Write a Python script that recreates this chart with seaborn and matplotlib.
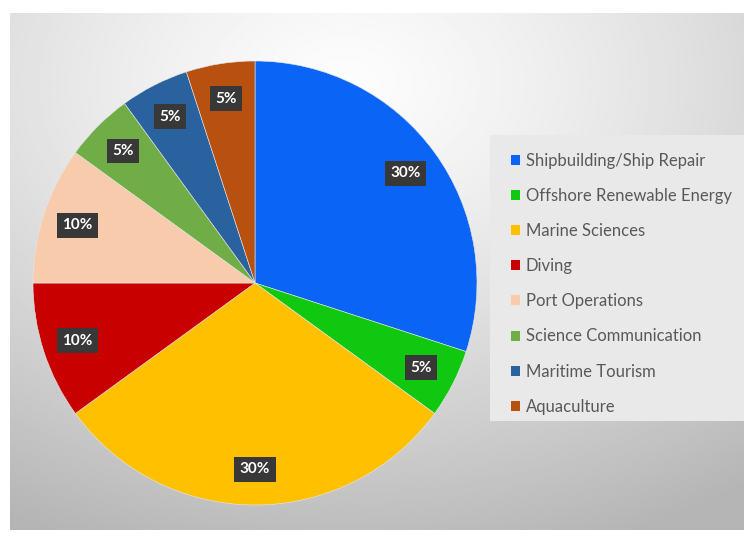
import numpy as np
import matplotlib
matplotlib.use("Agg")
import matplotlib.pyplot as plt
import seaborn as sns
from matplotlib.patches import Rectangle

categories = ["Shipbuilding/Ship Repair", "Offshore Renewable Energy", "Marine Sciences",
              "Diving", "Port Operations", "Science Communication", "Maritime Tourism", "Aquaculture"]
values = [30, 5, 30, 10, 10, 5, 5, 5]
colors = ["#0a64f5", "#10c810", "#ffc000", "#c80000", "#f9cbad", "#70ad47", "#2a62a0", "#b8510f"]

sns.set_theme(style="white")
plt.rcParams['font.family'] = ['Lato', 'DejaVu Sans']

W, H = 744, 545
fig = plt.figure(figsize=(W / 100, H / 100), dpi=100)
fig.patch.set_facecolor("white")

# background panel with radial gradient
bg = fig.add_axes([10 / W, 1 - 530 / H, (W - 10) / W, (530 - 13) / H])
yy, xx = np.mgrid[0:300, 0:440]
cx, cy = 200, 40
d = np.sqrt(((xx - cx) / 440) ** 2 + ((yy - cy) / 300) ** 2)
val = 0.99 - 0.28 * np.clip(d / 0.95, 0, 1) ** 1.3
bg.imshow(val, cmap="gray", vmin=0, vmax=1, aspect="auto", interpolation="bilinear")
bg.set_axis_off()

# legend box
fig.patches.append(Rectangle((490 / W, 1 - 421 / H), (W - 490) / W, (421 - 135) / H,
                             transform=fig.transFigure, facecolor="#e9e9e9",
                             edgecolor="none", zorder=1))

cxp, cyp, R = 255, 283, 222
ax = fig.add_axes([(cxp - R) / W, 1 - (cyp + R) / H, 2 * R / W, 2 * R / H])
wedges, texts, autotexts = ax.pie(
    values, colors=colors, startangle=90, counterclock=False,
    autopct=lambda p: f"{p:.0f}%", pctdistance=0.84,
    wedgeprops=dict(linewidth=0.4, edgecolor="#e8e8e8"),
    textprops=dict(color="white", fontsize=11, fontweight="bold"))
for t in autotexts:
    t.set_bbox(dict(boxstyle="square,pad=0.35", facecolor="#383838", edgecolor="none"))
ax.set_xlim(-1, 1)
ax.set_ylim(-1, 1)
ax.set_aspect("auto")
ax.set_axis_off()

leg = fig.legend(wedges, categories, loc="upper left",
                 bbox_to_anchor=(504 / W, 1 - 146 / H), frameon=False,
                 fontsize=12, labelcolor="#595959", handlelength=0.55, handleheight=0.55,
                 handletextpad=0.35, labelspacing=1.15, borderaxespad=0)
for h in leg.legend_handles:
    h.set_linewidth(0)

fig.savefig("out.png", dpi=100)
